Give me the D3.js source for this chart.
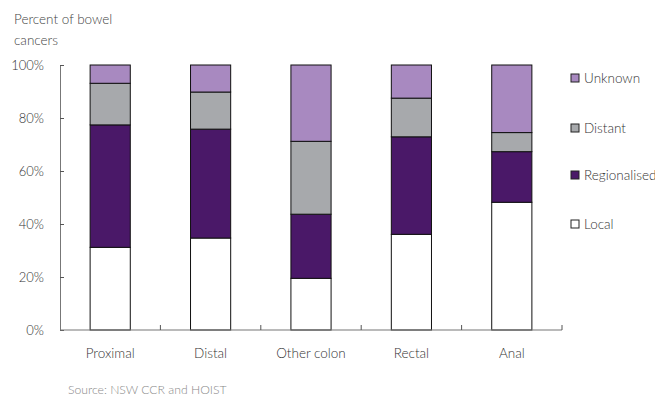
<!DOCTYPE html>
<html>
<head>
<meta charset="utf-8">
<script src="https://cdn.jsdelivr.net/npm/d3@7"></script>
<style>
  body { margin: 0; background: #fff; }
  text { font-family: Lato, "Open Sans", sans-serif; font-weight: 300; }
</style>
</head>
<body>
<script>
// data
var categories = ["Proximal", "Distal", "Other colon", "Rectal", "Anal"];
var stages = ["Local", "Regionalised", "Distant", "Unknown"];
var local        = [31.2, 34.7, 19.5, 36.1, 48.2];
var regionalised = [46.2, 41.1, 24.2, 36.8, 19.1];
var distant      = [15.7, 14.0, 27.5, 14.6, 7.2];
var unknown      = [6.9, 10.2, 28.8, 12.5, 25.5];
var yTicks = [0, 20, 40, 60, 80, 100];

var colors = {Local: "#ffffff", Regionalised: "#4a1868", Distant: "#a7a9ac", Unknown: "#a889c0"};

var width = 655, height = 397;
var margin = {top: 65, left: 60, bottom: 67, right: 93};

var rows = categories.map(function(c, i){
    return {cat: c, Local: local[i], Regionalised: regionalised[i], Distant: distant[i], Unknown: unknown[i]};
});

var svg = d3.select("body").append("svg")
    .attr("width", width).attr("height", height);

var x = d3.scaleBand().domain(categories)
    .range([margin.left, width - margin.right])
    .paddingInner(0.6).paddingOuter(0.3);
var y = d3.scaleLinear().domain([0, 100])
    .range([height - margin.bottom, margin.top]);

var series = d3.stack().keys(stages)(rows);

// bars
svg.append("g").selectAll("g")
    .data(series).enter().append("g")
    .attr("fill", function(d){ return colors[d.key]; })
    .selectAll("rect")
    .data(function(d){ return d; }).enter().append("rect")
    .attr("x", function(d){ return x(d.data.cat); })
    .attr("y", function(d){ return y(d[1]); })
    .attr("width", x.bandwidth())
    .attr("height", function(d){ return y(d[0]) - y(d[1]); })
    .attr("stroke", "#111").attr("stroke-width", 1);

// y axis
var yAxis = svg.append("g")
    .attr("transform", "translate(" + margin.left + ",0)")
    .call(d3.axisRight(y).tickValues(yTicks).tickSize(4)
        .tickFormat(function(d){ return d + "%"; }));
yAxis.select(".domain").attr("stroke", "#777");
yAxis.selectAll(".tick line").attr("stroke", "#555");
yAxis.selectAll(".tick text")
    .attr("x", -16).attr("text-anchor", "end")
    .attr("fill", "#333").style("font-size", "13px");

// x axis
var x0 = x.range()[0], x1 = x.range()[1];
var bounds = categories.map(function(c){ return x(c) - x.step() * 0.3; })
    .concat([x1]);
svg.append("line")
    .attr("x1", x0).attr("x2", x1)
    .attr("y1", y(0)).attr("y2", y(0))
    .attr("stroke", "#777").attr("stroke-width", 1.2);
svg.append("g").selectAll("line")
    .data(bounds.slice(1)).enter().append("line")
    .attr("x1", function(d){ return d; }).attr("x2", function(d){ return d; })
    .attr("y1", y(0)).attr("y2", y(0) - 5)
    .attr("stroke", "#555");
svg.append("g").selectAll("text")
    .data(categories).enter().append("text")
    .attr("x", function(d){ return x(d) + x.bandwidth() / 2; })
    .attr("y", y(0) + 28)
    .attr("text-anchor", "middle")
    .attr("fill", "#333").style("font-size", "13.5px")
    .text(function(d){ return d; });

// y title
svg.append("text").attr("x", 14).attr("y", 24)
    .attr("fill", "#444").style("font-size", "13.5px").text("Percent of bowel");
svg.append("text").attr("x", 14).attr("y", 45)
    .attr("fill", "#444").style("font-size", "13.5px").text("cancers");

// legend
var legY = [78, 128, 175, 224];
var legend = svg.append("g").selectAll("g")
    .data(stages.slice().reverse()).enter().append("g")
    .attr("transform", function(d, i){ return "translate(571," + legY[i] + ")"; });
legend.append("rect")
    .attr("x", 0).attr("y", -4).attr("width", 8).attr("height", 8)
    .attr("fill", function(d){ return colors[d]; })
    .attr("stroke", "#222").attr("stroke-width", 1);
legend.append("text")
    .attr("x", 13).attr("y", 5)
    .attr("fill", "#333").style("font-size", "13.5px")
    .text(function(d){ return d; });

// source
svg.append("text").attr("x", 68).attr("y", 394)
    .attr("fill", "#888").style("font-size", "12.2px")
    .text("Source: NSW CCR and HOIST");
</script>
</body>
</html>
